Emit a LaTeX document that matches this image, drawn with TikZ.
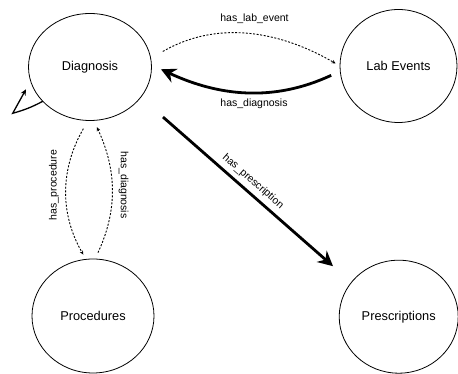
\documentclass[tikz,border=0pt]{standalone}
\usepackage{fontspec}
\setmainfont{Liberation Sans}
\usepackage{tikz}
\usetikzlibrary{shapes,arrows,positioning,calc,arrows.meta}

\begin{document}
\begin{tikzpicture}[x=1pt,y=1pt,
    entity/.style={ellipse, draw, line width=0.8pt, inner sep=0pt, outer sep=0pt,
        font=\fontsize{12.8}{15}\selectfont},
    rel/.style={line width=0.9pt, dash pattern=on 2pt off 1.6pt,
        -{Stealth[length=4pt,width=3.6pt]}},
    strong/.style={line width=2.8pt, -{Stealth[length=15pt,width=15pt,inset=5pt]}},
    lbl/.style={font=\fontsize{10.5}{12}\selectfont, inner sep=0pt}]
    \useasboundingbox (0,0) rectangle (458,374);

    % Tables
    \node[entity, minimum width=123pt, minimum height=107pt] (diag) at (90,307) {Diagnosis};
    \node[entity, minimum width=117pt, minimum height=113pt] (lab) at (398.5,308) {Lab Events};
    \node[entity, minimum width=122pt, minimum height=114pt] (proc) at (93,58) {Procedures};
    \node[entity, minimum width=119pt, minimum height=113pt] (presc) at (398.7,57.3) {Prescriptions};

    % Diagnosis <-> Lab Events
    \draw[rel, shorten <=14pt, shorten >=5pt] (diag.8) to[out=30,in=150] (lab.180);
    \draw[strong, shorten <=10pt, shorten >=10.5pt] (lab.185) to[out=205,in=-25] (diag.2);
    \node[lbl] at (254.5,355) {has\_lab\_event};
    \node[lbl] at (254,270) {has\_diagnosis};

    % self reference on Diagnosis
    \coordinate (loopbend) at (12.7,260.7);
    \coordinate (loopend) at (26,284.7);
    \draw[line width=1.3pt, -{Stealth[length=6pt,width=5.5pt,inset=2pt]}]
        (diag.216) to[bend left=6] (loopbend) -- (loopend);

    % Diagnosis <-> Procedures
    \draw[rel, shorten <=9.5pt, shorten >=5.5pt] (diag.268) to[out=240,in=120] (proc.97);
    \draw[rel, shorten <=7pt, shorten >=7.5pt] (proc.88) to[out=65,in=-65] (diag.274);
    \node[lbl, rotate=90] at (54,189) {has\_procedure};
    \node[lbl, rotate=-90] at (123.5,189) {has\_diagnosis};

    % Diagnosis -> Prescriptions
    \draw[strong, shorten <=29.8pt, shorten >=24.5pt] (diag.-31) -- (presc.144);
    \node[lbl, rotate=-41.2] at (253,192.5) {has\_prescription};
\end{tikzpicture}
\end{document}
